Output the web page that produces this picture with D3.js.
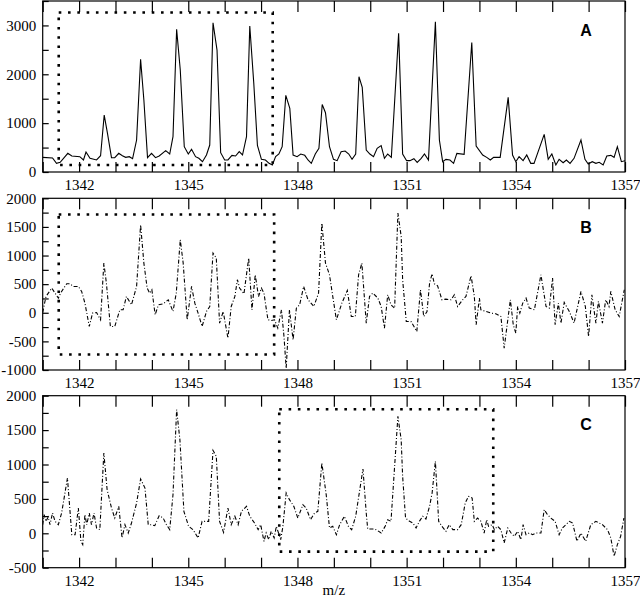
<!DOCTYPE html>
<html><head><meta charset="utf-8">
<script src="https://cdn.jsdelivr.net/npm/d3@7"></script>
<style>body{margin:0;background:#fff} svg{display:block} .tk text{font-family:"Liberation Serif","Times New Roman",serif !important;font-size:15px !important;fill:#000}</style>
</head><body><svg id="c" width="640" height="603"></svg>
<script>
// ---------- DATA ----------
const mzA = [1341.00,1341.27,1341.38,1341.48,1341.69,1341.80,1342.02,1342.12,1342.19,1342.30,1342.48,1342.59,1342.69,1342.78,1342.89,1342.98,1343.09,1343.19,1343.28,1343.38,1343.47,1343.58,1343.69,1343.78,1343.88,1343.99,1344.10,1344.20,1344.38,1344.49,1344.58,1344.68,1344.78,1344.89,1345.00,1345.09,1345.20,1345.29,1345.39,1345.50,1345.59,1345.68,1345.79,1345.89,1346.00,1346.09,1346.20,1346.30,1346.40,1346.49,1346.60,1346.69,1346.80,1346.90,1347.01,1347.12,1347.22,1347.31,1347.40,1347.49,1347.58,1347.68,1347.79,1347.88,1347.99,1348.09,1348.20,1348.29,1348.38,1348.49,1348.59,1348.68,1348.77,1348.88,1348.99,1349.09,1349.20,1349.31,1349.41,1349.50,1349.60,1349.69,1349.78,1349.89,1349.99,1350.09,1350.19,1350.30,1350.39,1350.48,1350.58,1350.78,1350.89,1351.00,1351.09,1351.20,1351.29,1351.40,1351.49,1351.60,1351.79,1351.90,1351.99,1352.08,1352.19,1352.29,1352.38,1352.58,1352.79,1352.91,1353.09,1353.20,1353.30,1353.39,1353.57,1353.79,1353.91,1354.00,1354.09,1354.20,1354.30,1354.41,1354.50,1354.78,1354.89,1354.99,1355.10,1355.19,1355.30,1355.39,1355.49,1355.60,1355.79,1355.90,1355.99,1356.10,1356.20,1356.29,1356.40,1356.50,1356.61,1356.70,1356.79,1356.90,1357.00];
const intA = [300,287,177,198,382,327,314,246,409,280,246,334,1166,791,293,293,382,334,300,314,273,655,2305,1473,293,382,293,327,436,368,723,2919,2087,518,368,464,314,280,211,348,552,3055,2496,396,246,246,341,327,416,348,723,2987,1814,546,259,246,177,143,314,368,518,1569,1303,348,314,368,341,246,177,368,484,1381,1214,518,259,232,416,430,368,259,368,1951,1732,450,368,314,484,539,280,368,300,2837,368,232,232,273,198,280,368,246,3076,655,211,259,246,177,382,361,2650,532,348,300,246,300,300,1528,348,211,314,232,348,177,177,771,259,368,143,259,191,246,177,280,655,259,164,211,177,198,143,327,341,300,518,211,232];

const mzB = [1341.00,1341.09,1341.25,1341.34,1341.43,1341.49,1341.66,1341.75,1341.84,1341.98,1342.07,1342.16,1342.28,1342.37,1342.48,1342.59,1342.68,1342.75,1342.86,1342.98,1343.12,1343.21,1343.30,1343.44,1343.58,1343.69,1343.78,1343.87,1343.94,1344.00,1344.09,1344.18,1344.31,1344.45,1344.58,1344.67,1344.78,1344.86,1344.97,1345.09,1345.18,1345.27,1345.38,1345.50,1345.59,1345.68,1345.77,1345.86,1345.96,1346.00,1346.09,1346.18,
 1346.28,1346.35,1346.41,1346.53,1346.66,1346.75,1346.84,1346.93,1347.01,1347.08,1347.14,1347.19,1347.28,1347.37,1347.46,1347.56,1347.63,1347.69,1347.78,1347.88,1347.97,1348.06,1348.17,1348.29,1348.45,1348.58,1348.67,1348.77,1348.88,1348.97,1349.07,1349.22,1349.37,1349.48,1349.59,1349.68,1349.77,1349.89,1349.98,1350.07,1350.21,1350.30,1350.39,1350.48,1350.57,1350.67,1350.76,1350.85,1350.89,1350.99,1351.12,1351.28,1351.38,1351.47,1351.56,
 1351.63,1351.70,1351.76,1351.85,1351.97,1352.08,1352.22,1352.31,1352.40,1352.54,1352.63,1352.77,1352.86,1352.91,1353.00,1353.04,1353.18,1353.32,1353.45,1353.59,1353.68,1353.85,1353.93,1354.00,1354.05,1354.11,1354.19,1354.28,1354.37,1354.51,1354.69,1354.83,1354.92,1355.01,1355.08,1355.17,1355.24,1355.33,1355.47,1355.60,1355.79,1355.91,1356.00,1356.09,1356.20,1356.27,1356.38,1356.47,1356.56,1356.61,1356.73,1356.84,1356.98];
const intB = [5,285,431,343,256,343,507,507,460,460,373,168,-239,-6,5,-123,868,518,-239,-239,52,52,285,139,460,1538,868,431,343,402,-35,139,157,227,23,343,1276,868,-123,460,168,-6,-239,23,110,1043,956,-181,23,-123,-444,110,
 285,577,431,332,956,52,664,285,431,343,81,-123,-134,-123,-269,52,-415,-969,52,-473,81,139,460,227,110,343,1567,868,664,285,-123,168,390,-65,-65,664,868,-181,285,343,256,110,-269,314,139,81,1743,1334,577,-152,-152,-327,402,-65,23,
 518,682,507,472,227,238,227,314,110,227,285,647,285,-210,256,52,23,-6,-18,-65,-618,227,-210,-356,110,-6,168,256,81,52,664,110,81,606,-210,168,-181,180,23,-181,373,110,-415,314,-181,198,-181,227,110,373,52,-65,402];

const mzC = [1341.00,1341.04,1341.09,1341.15,1341.20,1341.27,1341.34,1341.43,1341.52,1341.68,1341.80,1341.89,1341.98,1342.05,1342.10,1342.16,1342.21,1342.28,1342.34,1342.41,1342.48,1342.57,1342.68,1342.77,1342.89,1342.98,1343.09,1343.18,1343.26,1343.35,1343.44,1343.58,1343.69,1343.81,1343.90,1343.99,1344.08,1344.20,1344.31,1344.40,1344.49,1344.58,1344.68,1344.77,1344.88,1345.01,1345.13,1345.27,1345.38,1345.47,1345.56,1345.68,1345.77,1345.86,1345.97,1346.09,1346.18,
 1346.28,1346.37,1346.46,1346.60,1346.69,1346.82,1346.92,1346.99,1347.08,1347.14,1347.21,1347.28,1347.36,1347.42,1347.54,1347.60,1347.69,1347.78,1347.90,1348.01,1348.15,1348.24,1348.36,1348.47,1348.56,1348.67,1348.79,1348.88,1348.97,1349.07,1349.16,1349.29,1349.40,1349.49,1349.60,1349.80,1349.89,1349.93,1350.07,1350.16,1350.30,1350.41,1350.48,1350.57,1350.76,1350.85,1350.89,1350.97,1351.08,1351.17,1351.26,1351.35,1351.44,1351.53,1351.63,
 1351.70,1351.79,1351.88,1351.97,1352.08,1352.17,1352.27,1352.40,1352.50,1352.61,1352.70,1352.80,1352.86,1352.95,1353.04,1353.13,1353.20,1353.25,1353.35,1353.41,1353.50,1353.59,1353.68,1353.78,1353.87,1353.96,1354.05,1354.14,1354.20,1354.28,1354.37,1354.46,1354.55,1354.69,1354.78,1354.87,1354.96,1355.08,1355.19,1355.28,1355.47,1355.56,1355.68,1355.79,1355.92,1356.06,1356.20,1356.29,1356.38,1356.52,1356.61,1356.70,1356.79,1356.88,1356.97];
const intC = [125,271,174,237,125,295,174,125,295,804,-20,-20,368,-116,-165,271,125,295,125,295,77,53,1167,634,368,222,392,-68,125,4,150,440,789,658,125,125,111,256,222,125,53,561,1797,1360,319,101,53,-68,174,174,174,1206,1119,174,14,368,125,
 247,125,319,392,247,150,53,125,-116,4,-92,29,-68,101,-92,101,586,489,392,222,416,368,198,295,319,1022,562,77,101,-20,125,247,101,53,247,935,295,63,63,53,4,101,198,174,1700,1360,828,222,174,150,77,174,247,208,392,
 586,1046,174,101,29,125,53,53,125,440,537,513,174,222,174,4,198,101,125,53,101,53,-141,77,4,-44,29,-92,125,-20,4,-20,4,4,344,271,222,174,-20,77,174,150,-116,4,-116,125,174,150,125,53,-68,-334,-165,-44,222];

// dotted boxes in data units: [mzLeft, mzRight, intBottom, intTop]
const boxA = [1341.44, 1347.32, 143, 3266];
const boxB = [1341.44, 1347.36, -730, 1717];
const boxC = [1347.50, 1353.38, -267, 1802];

const panelLabels = ["A", "B", "C"];
const yDomains = [[0, 3500], [-1000, 2000], [-500, 2000]];
const yTickSteps = [500, 250, 250];
const yLabelSteps = [1000, 500, 500];
const xDomain = [1341, 1357];
const xTicks = d3.range(1341, 1358, 1);
const xLabels = [1342, 1345, 1348, 1351, 1354, 1357];
const xTitle = "m/z";

// ---------- DRAW ----------
const svg = d3.select("#c");
const L = 42.7, R = 625;
const tops = [1, 198.3, 395.7], bottoms = [172, 370, 567.7];
const x = d3.scaleLinear().domain(xDomain).range([L, R]);
const series = [[mzA, intA], [mzB, intB], [mzC, intC]];
const boxes = [boxA, boxB, boxC];
const dashes = [null, "4,2,1,2", "4,2,1,2"];
const serif = "'Liberation Serif','Times New Roman',serif";

panelLabels.forEach((name, i) => {
  const y = d3.scaleLinear().domain(yDomains[i]).range([bottoms[i], tops[i]]);
  const g = svg.append("g");

  const cid = "clip" + i;
  svg.append("clipPath").attr("id", cid).append("rect")
    .attr("x", L).attr("y", tops[i]).attr("width", R - L).attr("height", bottoms[i] - tops[i]);

  const ax = g.append("g").attr("class", "tk").attr("transform", `translate(0,${bottoms[i]})`)
    .call(d3.axisBottom(x).tickValues(xTicks).tickSize(-10).tickPadding(7.5)
      .tickFormat(d => xLabels.includes(d) ? d3.format("d")(d) : ""));
  const axT = g.append("g").attr("class", "tk").attr("transform", `translate(0,${tops[i]})`)
    .call(d3.axisTop(x).tickValues(xTicks).tickSize(-11).tickFormat(""));
  const yt = d3.range(yDomains[i][0], yDomains[i][1] + 1, yTickSteps[i]);
  const ay = g.append("g").attr("class", "tk").attr("transform", `translate(${L},0)`)
    .call(d3.axisLeft(y).tickValues(yt).tickSize(-6).tickPadding(6.5)
      .tickFormat(d => (d % yLabelSteps[i] === 0 && d !== yDomains[i][1]) || (i > 0 && d === yDomains[i][1]) ? String(d) : ""));

  [ax, axT, ay].forEach(a => {
    a.attr("font-family", null).attr("font-size", null);
    a.select(".domain").remove();
    a.selectAll("line").attr("stroke", "#000").attr("stroke-width", 1.2);
  });

  const b = boxes[i];
  g.append("rect")
    .attr("x", x(b[0])).attr("y", y(b[3]))
    .attr("width", x(b[1]) - x(b[0])).attr("height", y(b[2]) - y(b[3]))
    .attr("fill", "none").attr("stroke", "#000").attr("stroke-width", 2.6)
    .attr("stroke-dasharray", "2.6,6.7");

  const pts = d3.zip(series[i][0], series[i][1]);
  const line = d3.line().x(d => x(d[0])).y(d => y(d[1]));
  g.append("path").datum(pts)
    .attr("clip-path", `url(#${cid})`)
    .attr("d", line).attr("fill", "none").attr("stroke", "#000")
    .attr("stroke-width", 1.1)
    .attr("stroke-dasharray", dashes[i]);

  g.append("rect").attr("x", L).attr("y", tops[i])
    .attr("width", R - L).attr("height", bottoms[i] - tops[i])
    .attr("fill", "none").attr("stroke", "#000").attr("stroke-width", 1.2);

  g.append("text").attr("x", 586).attr("y", tops[i] + 34.7)
    .attr("text-anchor", "middle")
    .style("font-family", "'Liberation Sans',Arial,sans-serif")
    .style("font-weight", "bold").style("font-size", "16px")
    .text(name);
});

svg.append("text").attr("x", (L + R) / 2).attr("y", 595)
  .attr("text-anchor", "middle").style("font-family", serif)
  .style("font-size", "15px").text(xTitle);
</script>
</body></html>
